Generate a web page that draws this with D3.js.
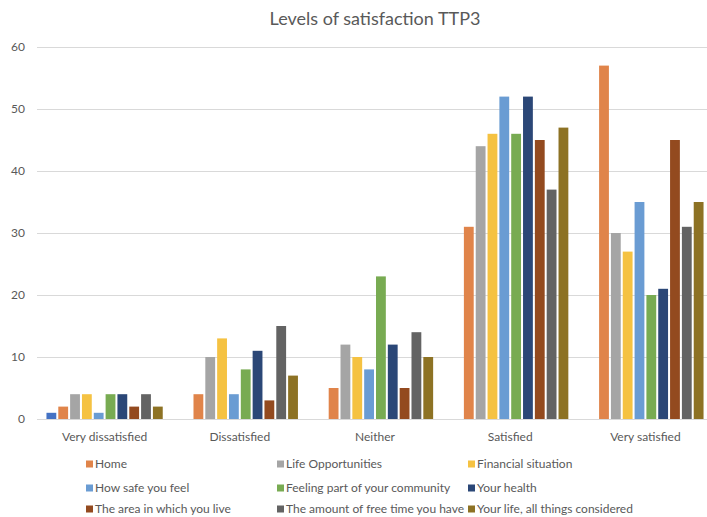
<!DOCTYPE html>
<html>
<head>
<meta charset="utf-8">
<script src="https://cdn.jsdelivr.net/npm/d3@7"></script>
<style>
  html, body { margin: 0; padding: 0; background: #ffffff; }
  svg { display: block; }
  text { font-family: Lato, "Open Sans", sans-serif; fill: #595959; }
</style>
</head>
<body>
<svg id="chart" width="707" height="517"></svg>
<script>
// Response categories along the x axis
const categories = ["Very dissatisfied", "Dissatisfied", "Neither", "Satisfied", "Very satisfied"];

// Series names (the first one has no legend entry)
const seriesNames = [
  "Unlisted",
  "Home",
  "Life Opportunities",
  "Financial situation",
  "How safe you feel",
  "Feeling part of your community",
  "Your health",
  "The area in which you live",
  "The amount of free time you have",
  "Your life, all things considered"
];

// Counts per category for each series
const unlisted        = [1, null, null, null, null];
const home            = [2, 4, 5, 31, 57];
const lifeOpps        = [4, 10, 12, 44, 30];
const financial       = [4, 13, 10, 46, 27];
const howSafe         = [1, 4, 8, 52, 35];
const community       = [4, 8, 23, 46, 20];
const health          = [4, 11, 12, 52, 21];
const area            = [2, 3, 5, 45, 45];
const freeTime        = [4, 15, 14, 37, 31];
const lifeOverall     = [2, 7, 10, 47, 35];

const seriesValues = [unlisted, home, lifeOpps, financial, howSafe, community, health, area, freeTime, lifeOverall];

const seriesColors = ["#4472C4", "#E0844A", "#A5A5A5", "#F5C242", "#6A9CD3", "#78AB52", "#2B4777", "#934A1F", "#636363", "#8D7224"];

// Y axis ticks
const yTicks = [0, 10, 20, 30, 40, 50, 60];

const svg = d3.select("#chart");

const plot = { left: 37, right: 713, top: 47, bottom: 419 };

const x0 = d3.scaleBand()
  .domain(categories)
  .range([plot.left, plot.right])
  .paddingInner(0)
  .paddingOuter(0);

const x1 = d3.scaleBand()
  .domain(d3.range(seriesNames.length))
  .range([0, x0.bandwidth()])
  .paddingInner(0.17)
  .paddingOuter(0.8);

const y = d3.scaleLinear()
  .domain([0, 60])
  .range([plot.bottom, plot.top]);

// Horizontal gridlines
svg.append("g")
  .selectAll("line")
  .data(yTicks)
  .join("line")
  .attr("x1", plot.left)
  .attr("x2", plot.right)
  .attr("y1", d => Math.round(y(d)) + 0.5)
  .attr("y2", d => Math.round(y(d)) + 0.5)
  .attr("stroke", "#D9D9D9")
  .attr("stroke-width", 1);

// Y tick labels
svg.append("g")
  .selectAll("text")
  .data(yTicks)
  .join("text")
  .attr("x", 25)
  .attr("y", d => y(d))
  .attr("dy", "0.35em")
  .attr("text-anchor", "end")
  .attr("font-size", 12)
  .text(d => d);

// Bars
const rows = [];
seriesValues.forEach((vals, si) => {
  vals.forEach((v, ci) => {
    if (v != null) rows.push({ s: si, c: categories[ci], v });
  });
});

svg.append("g")
  .selectAll("rect")
  .data(rows)
  .join("rect")
  .attr("x", d => x0(d.c) + x1(d.s))
  .attr("width", x1.bandwidth())
  .attr("y", d => y(d.v))
  .attr("height", d => y(0) - y(d.v))
  .attr("fill", d => seriesColors[d.s]);

// X category labels
svg.append("g")
  .selectAll("text")
  .data(categories)
  .join("text")
  .attr("x", d => x0(d) + x0.bandwidth() / 2)
  .attr("y", 437)
  .attr("dy", "0.35em")
  .attr("text-anchor", "middle")
  .attr("font-size", 12)
  .text(d => d);

// Title
svg.append("text")
  .attr("x", 375)
  .attr("y", 19)
  .attr("dy", "0.35em")
  .attr("text-anchor", "middle")
  .attr("font-size", 18)
  .text("Levels of satisfaction TTP3");

// Legend: three columns, three rows
const legendCols = [86, 277, 468];
const legendRows = [464, 488, 509];
const legendItems = seriesNames.slice(1).map((name, i) => ({ name, color: seriesColors[i + 1], i }));

const legend = svg.append("g")
  .selectAll("g")
  .data(legendItems)
  .join("g")
  .attr("transform", d => `translate(${legendCols[d.i % 3]},${legendRows[Math.floor(d.i / 3)]})`);

legend.append("rect")
  .attr("x", 0)
  .attr("y", -3.5)
  .attr("width", 7)
  .attr("height", 7)
  .attr("fill", d => d.color);

legend.append("text")
  .attr("x", 9)
  .attr("y", 0)
  .attr("dy", "0.35em")
  .attr("font-size", 12)
  .text(d => d.name);
</script>
</body>
</html>
